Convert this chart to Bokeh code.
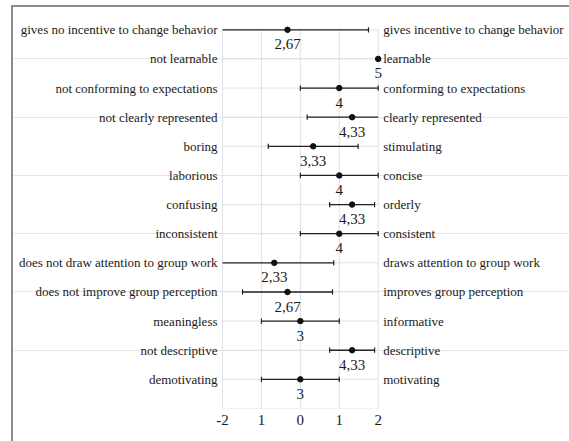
from bokeh.plotting import figure
from bokeh.models import ColumnDataSource, LabelSet, Range1d, FixedTicker
from bokeh.core.properties import value
from bokeh.embed import file_html
from bokeh.resources import INLINE

neg_labels = ["gives no incentive to change behavior", "not learnable", "not conforming to expectations",
              "not clearly represented", "boring", "laborious", "confusing", "inconsistent",
              "does not draw attention to group work", "does not improve group perception",
              "meaningless", "not descriptive", "demotivating"]
pos_labels = ["gives incentive to change behavior", "learnable", "conforming to expectations",
              "clearly represented", "stimulating", "concise", "orderly", "consistent",
              "draws attention to group work", "improves group perception",
              "informative", "descriptive", "motivating"]
means = [2.67, 5, 4, 4.33, 3.33, 4, 4.33, 4, 2.33, 2.67, 3, 4.33, 3]
sds = [2.08, 0, 1, 1.155, 1.155, 1, 0.577, 1, 1.528, 1.155, 1, 0.577, 1]
value_labels = ["2,67", "5", "4", "4,33", "3,33", "4", "4,33", "4", "2,33", "2,67", "3", "4,33", "3"]
x_ticks = [-2, -1, 0, 1, 2]
x_tick_labels = ["-2", "1", "0", "1", "2"]

CENTER = 3
XMIN, XMAX = -2, 2
rows = list(range(1, len(means) + 1))
ybot = len(rows) + 1
xs = [m - CENTER for m in means]

# layout in canvas pixels
CW, CH = 556, 434
PX_L, PX_R = 209.0, 364.7      # x = -2 and x = 2
PY_TOP_ROW, PY_BOT = 22.3, 401.0
ppx = (PX_R - PX_L) / (XMAX - XMIN)
ppy = (PY_BOT - PY_TOP_ROW) / (ybot - 1)
x_start = XMIN - PX_L / ppx
x_end = XMAX + (CW - PX_R) / ppx
y_top = 1 - PY_TOP_ROW / ppy

FONT = "Liberation Serif"
TXT = "#1a1a1a"
GRID = "#dfe1e8"

p = figure(frame_width=CW, frame_height=int(round(PY_BOT)),
           min_border=0, min_border_bottom=CH - int(round(PY_BOT)),
           x_range=Range1d(x_start, x_end), y_range=Range1d(ybot, y_top),
           y_axis_location=None, output_backend="svg", toolbar_location=None)
p.outline_line_color = None
p.background_fill_color = "white"
p.border_fill_color = "white"
p.xgrid.visible = False
p.styles = {"margin-left": "11px", "margin-top": "5px",
            "border-top": "2px solid #8c8c8c", "border-left": "2px solid #8c8c8c"}

# x axis
p.xaxis.ticker = FixedTicker(ticks=x_ticks)
p.xaxis.major_label_overrides = {t: l for t, l in zip(x_ticks, x_tick_labels)}
p.xaxis.axis_line_color = None
p.xaxis.major_tick_line_color = None
p.xaxis.minor_tick_line_color = None
p.xaxis.major_label_text_font = FONT
p.xaxis.major_label_text_font_size = "15px"
p.xaxis.major_label_text_color = TXT
p.xaxis.major_label_standoff = 0

# grid lines
p.segment(x0=x_ticks, y0=[1] * len(x_ticks), x1=x_ticks, y1=[ybot] * len(x_ticks),
          line_color=GRID, line_width=1)
gy = rows + [ybot]
p.segment(x0=[XMIN] * len(gy), y0=gy, x1=[XMAX] * len(gy), y1=gy, line_color=GRID, line_width=1)

# whiskers (clipped to the axis range; caps only on unclipped ends)
seg = dict(x0=[], x1=[], y=[])
caps = dict(x=[], y0=[], y1=[])
CAP = 0.09
for x, s, r in zip(xs, sds, rows):
    if s == 0:
        continue
    lo, hi = x - s, x + s
    seg["x0"].append(max(lo, XMIN))
    seg["x1"].append(min(hi, XMAX))
    seg["y"].append(r)
    for e in (lo, hi):
        if XMIN <= e <= XMAX:
            caps["x"].append(e)
            caps["y0"].append(r - CAP)
            caps["y1"].append(r + CAP)

p.segment(x0="x0", y0="y", x1="x1", y1="y", source=ColumnDataSource(seg),
          line_color="#222222", line_width=1.3)
p.segment(x0="x", y0="y0", x1="x", y1="y1", source=ColumnDataSource(caps),
          line_color="#222222", line_width=1.2)

src = ColumnDataSource(dict(x=xs, y=rows, yl=[r + 0.5 for r in rows], vl=value_labels,
                            neg=neg_labels, pos=pos_labels,
                            xl=[XMIN] * len(rows), xr=[XMAX] * len(rows)))
p.scatter(x="x", y="y", source=src, size=5.5, color="#111111")

p.add_layout(LabelSet(x="x", y="yl", text="vl", source=src, text_align="center",
                      text_baseline="middle", text_font=value(FONT), text_font_size="15px",
                      text_color=TXT))
p.add_layout(LabelSet(x="xl", y="y", text="neg", source=src, x_offset=-5, text_align="right",
                      text_baseline="middle", text_font=value(FONT), text_font_size="13px",
                      text_color=TXT))
p.add_layout(LabelSet(x="xr", y="y", text="pos", source=src, x_offset=5, text_align="left",
                      text_baseline="middle", text_font=value(FONT), text_font_size="13px",
                      text_color=TXT))

open("out.html", "w").write(file_html(p, INLINE))
